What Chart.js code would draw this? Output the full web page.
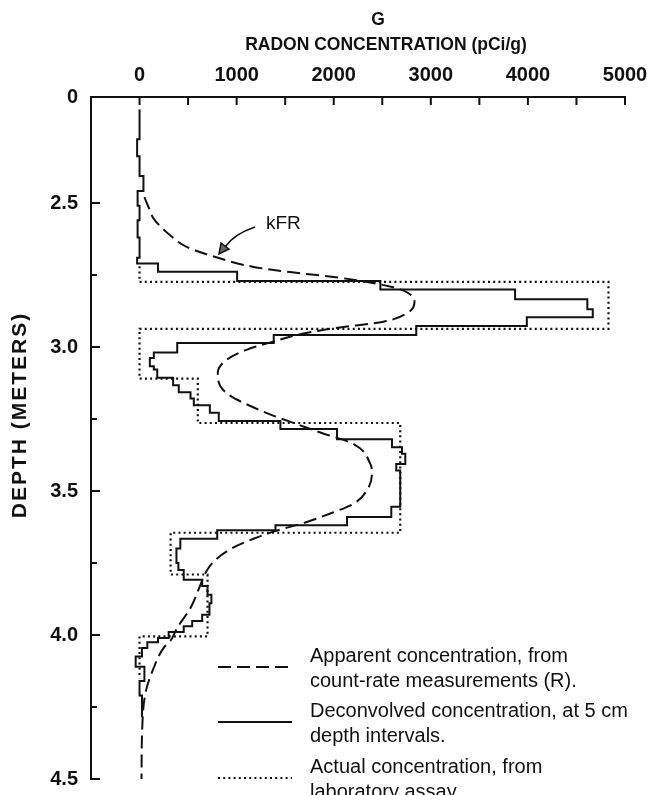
<!DOCTYPE html>
<html lang="en">
<head>
  <meta charset="UTF-8">
  <title>Radon concentration vs depth</title>
  <script src="https://cdn.jsdelivr.net/npm/chart.js"></script>
  <style>
    body { margin: 0; background: #fff; }
    #wrap { position: relative; width: 647px; height: 795px; }
  </style>
</head>
<body>
<div id="wrap"><canvas id="radonChart" width="647" height="795"></canvas></div>
<script>
  // depth axis is broken: the top edge stands for 0 m, then jumps to ~2.13 m
  const depthTop = 2.132;
  const depthBottom = 4.5;

  // apparent concentration from count rate (kFR), dashed
  const apparentDepth = [2.48, 2.52, 2.555, 2.613, 2.653, 2.693, 2.722, 2.74, 2.757, 2.774, 2.80, 2.843, 2.883, 2.912, 2.935,
    2.958, 2.981, 3.009, 3.043, 3.09, 3.136, 3.17, 3.205, 3.239, 3.268, 3.297, 3.337, 3.406, 3.44, 3.498, 3.544, 3.578,
    3.61, 3.641, 3.665, 3.699, 3.745, 3.79, 3.825, 3.906, 3.975, 4.02, 4.044, 4.113, 4.2, 4.32, 4.5];
  const apparentValue = [50, 100, 147, 319, 490, 833, 1176, 1550, 2000, 2343, 2685, 2832, 2754, 2513, 2000,
    1622, 1382, 1108, 902, 806, 833, 936, 1142, 1382, 1622, 1862, 2205, 2377, 2394, 2342, 2205, 1965,
    1700, 1380, 1180, 950, 764, 670, 628, 525, 388, 319, 250, 147, 62, 28, 20];

  // deconvolved concentration, step profile (value holds until next depth)
  const deconvDepth = [2.175, 2.279, 2.338, 2.406, 2.458, 2.51, 2.56, 2.62, 2.69, 2.71, 2.739, 2.771, 2.80, 2.834, 2.869,
    2.897, 2.927, 2.958, 2.986, 3.019, 3.038, 3.067, 3.078, 3.107, 3.133, 3.157, 3.179, 3.202, 3.228, 3.257, 3.285,
    3.32, 3.348, 3.371, 3.406, 3.429, 3.555, 3.59, 3.619, 3.636, 3.666, 3.70, 3.75, 3.774, 3.808, 3.83, 3.86, 3.89,
    3.93, 3.951, 3.97, 3.99, 4.01, 4.025, 4.045, 4.075, 4.11, 4.16, 4.21, 4.285];
  const deconvValue = [0, -25, 0, 40, -20, 0, -20, 0, -25, 190, 1005, 2480, 3868, 4612, 4668,
    3989, 2850, 1382, 388, 147, 106, 147, 182, 346, 404, 525, 559, 724, 816, 1451, 2034,
    2600, 2703, 2737, 2644, 2685, 2593, 2137, 1400, 800, 420, 380, 400, 455, 645, 700, 740, 720,
    645, 542, 455, 300, 190, 80, 25, -40, 50, 0, 25, 25];

  // laboratory assay, step profile
  const assayDepth = [2.72, 2.774, 2.937, 3.11, 3.264, 3.645, 3.79, 4.005, 4.15];
  const assayValue = [0, 4830, 0, 600, 2685, 320, 700, 0, 0];

  const xLabelValues = [0, 1000, 2000, 3000, 4000, 5000];
  const xMinorValues = [500, 1500, 2500, 3500, 4500];
  const yLabelValues = [2.5, 3.0, 3.5, 4.0, 4.5];
  const yMinorValues = [2.75, 3.25, 3.75, 4.25];

  const legendText = [
    ['Apparent concentration, from', 'count-rate measurements (R).'],
    ['Deconvolved concentration, at 5 cm', 'depth intervals.'],
    ['Actual concentration, from', 'laboratory assay.']
  ];

  const ink = '#111';
  const font = "'Liberation Sans', Arial, sans-serif";

  const toPoints = (depths, values) => depths.map((d, i) => ({ x: values[i], y: d }));

  // titles, inward tick marks, kFR note and legend
  const decorations = {
    id: 'decorations',
    afterDraw(chart) {
      const { ctx, chartArea: a, scales: { x, y } } = chart;
      ctx.save();
      ctx.strokeStyle = ink;
      ctx.fillStyle = ink;
      ctx.lineWidth = 2;
      ctx.setLineDash([]);

      // ticks point into the plot
      ctx.beginPath();
      xLabelValues.concat(xMinorValues).forEach(v => {
        const px = x.getPixelForValue(v);
        ctx.moveTo(px, a.top);
        ctx.lineTo(px, a.top + 8);
      });
      yLabelValues.forEach(v => {
        const py = y.getPixelForValue(v);
        ctx.moveTo(a.left, py);
        ctx.lineTo(a.left + 9, py);
      });
      yMinorValues.forEach(v => {
        const py = y.getPixelForValue(v);
        ctx.moveTo(a.left, py);
        ctx.lineTo(a.left + 6, py);
      });
      ctx.stroke();

      // titles
      ctx.textAlign = 'center';
      ctx.textBaseline = 'middle';
      ctx.font = 'bold 17.5px ' + font;
      ctx.fillText('G', 378, 20);
      ctx.fillText('RADON CONCENTRATION (pCi/g)', 386, 45);
      ctx.save();
      ctx.translate(20, 415);
      ctx.rotate(-Math.PI / 2);
      ctx.font = 'bold 21px ' + font;
      ctx.letterSpacing = '2px';
      ctx.fillText('DEPTH (METERS)', 0, 0);
      ctx.restore();

      // kFR label with curved arrow
      ctx.textAlign = 'left';
      ctx.font = '19px ' + font;
      ctx.fillText('kFR', 266, 224);
      ctx.lineWidth = 1.5;
      ctx.beginPath();
      ctx.moveTo(255, 227);
      ctx.quadraticCurveTo(234, 234, 225, 247);
      ctx.stroke();
      ctx.fillStyle = '#666';
      ctx.beginPath();
      ctx.moveTo(219, 254);
      ctx.lineTo(221, 243);
      ctx.lineTo(229, 249);
      ctx.closePath();
      ctx.fill();
      ctx.strokeStyle = ink;
      ctx.stroke();

      // legend
      const rows = [667, 722, 778];
      ctx.fillStyle = ink;
      ctx.font = '20px ' + font;
      chart.data.datasets.forEach((ds, i) => {
        ctx.strokeStyle = ink;
        ctx.lineWidth = ds.borderWidth;
        ctx.setLineDash(ds.borderDash || []);
        ctx.beginPath();
        ctx.moveTo(218, rows[i]);
        ctx.lineTo(292, rows[i]);
        ctx.stroke();
        ctx.setLineDash([]);
        legendText[i].forEach((line, k) => ctx.fillText(line, 310, rows[i] - 11 + k * 25));
      });
      ctx.restore();
    }
  };

  new Chart(document.getElementById('radonChart'), {
    type: 'line',
    data: {
      datasets: [
        {
          label: legendText[0].join(' '),
          data: toPoints(apparentDepth, apparentValue),
          borderColor: ink, borderWidth: 2, borderDash: [13, 6],
          cubicInterpolationMode: 'monotone', pointRadius: 0
        },
        {
          label: legendText[1].join(' '),
          data: toPoints(deconvDepth, deconvValue),
          borderColor: ink, borderWidth: 2, stepped: 'after', pointRadius: 0
        },
        {
          label: legendText[2].join(' '),
          data: toPoints(assayDepth, assayValue),
          borderColor: ink, borderWidth: 2.2, borderDash: [2, 3.2], stepped: 'after', pointRadius: 0
        }
      ]
    },
    options: {
      responsive: false,
      animation: false,
      indexAxis: 'y',
      layout: { padding: { top: 0, left: 0, right: 22, bottom: 16 } },
      plugins: { legend: { display: false }, tooltip: { enabled: false } },
      scales: {
        x: {
          type: 'linear',
          position: 'top',
          min: -500,
          max: 5000,
          afterBuildTicks: s => { s.ticks = xLabelValues.map(v => ({ value: v })); },
          afterFit: s => { s.height = 97; s.paddingLeft = 0; s.paddingRight = 0; },
          grid: { display: false, drawTicks: false },
          border: { color: ink, width: 2 },
          ticks: {
            autoSkip: false, maxRotation: 0, padding: 10, color: ink,
            font: { family: font, size: 20, weight: 'bold' },
            callback: v => String(v)
          }
        },
        y: {
          type: 'linear',
          reverse: true,
          min: depthTop,
          max: depthBottom,
          afterBuildTicks: s => { s.ticks = [depthTop].concat(yLabelValues).map(v => ({ value: v })); },
          afterFit: s => { s.width = 91; s.paddingTop = 0; s.paddingBottom = 0; },
          grid: { display: false, drawTicks: false },
          border: { color: ink, width: 2 },
          ticks: {
            autoSkip: false, padding: 13, color: ink,
            font: { family: font, size: 20, weight: 'bold' },
            callback: v => (v === depthTop ? '0' : v.toFixed(1))
          }
        }
      }
    },
    plugins: [decorations]
  });
</script>
</body>
</html>
